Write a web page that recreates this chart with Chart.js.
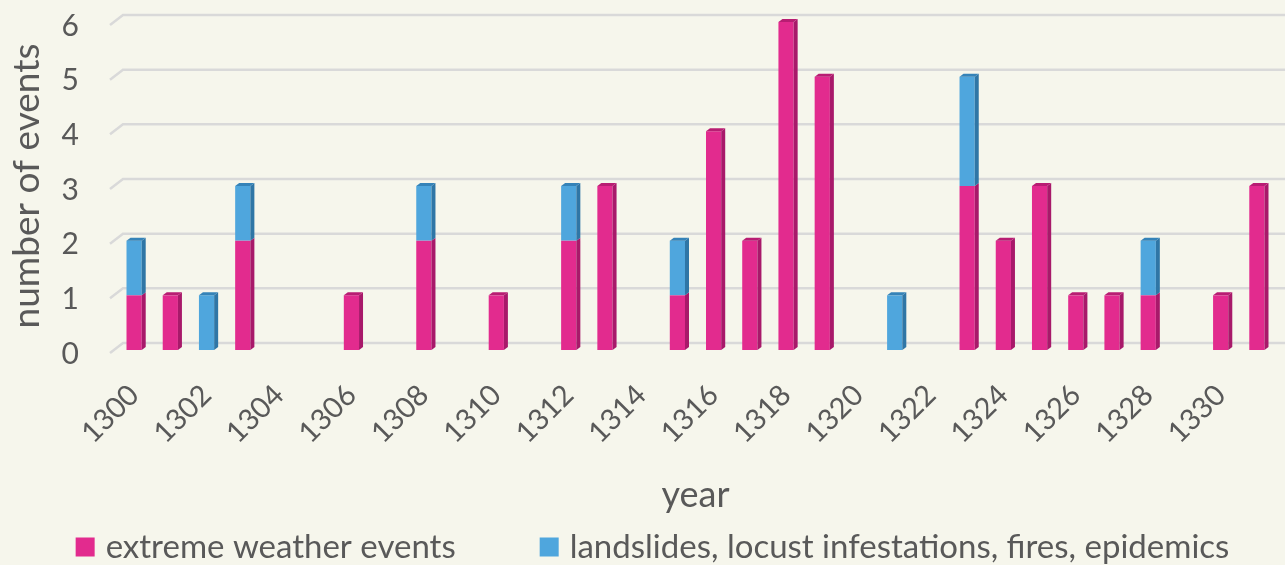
<!DOCTYPE html>
<html>
<head>
<meta charset="utf-8">
<script src="https://cdn.jsdelivr.net/npm/chart.js@4.4.1/dist/chart.umd.min.js"></script>
<style>
  html, body { margin: 0; padding: 0; background: #f6f6ec; }
  #wrap { width: 1285px; height: 565px; }
</style>
</head>
<body>
<div id="wrap"><canvas id="grafico"></canvas></div>
<script>
const years = [
  "1300", "1301", "1302", "1303", "1304", "1305", "1306", "1307",
  "1308", "1309", "1310", "1311", "1312", "1313", "1314", "1315",
  "1316", "1317", "1318", "1319", "1320", "1321", "1322", "1323",
  "1324", "1325", "1326", "1327", "1328", "1329", "1330", "1331",
];
const weather = [1, 1, 0, 2, 0, 0, 1, 0, 2, 0, 1, 0, 2, 3, 0, 1, 4, 2, 6, 5, 0, 0, 0, 3, 2, 3, 1, 1, 1, 0, 1, 3];
const otros = [1, 0, 1, 1, 0, 0, 0, 0, 1, 0, 0, 0, 1, 0, 0, 1, 0, 0, 0, 0, 0, 1, 0, 2, 0, 0, 0, 0, 1, 0, 0, 0];
const yTicks = [0, 1, 2, 3, 4, 5, 6];

const texto = "#595959";
const fuente = "Lato";
const colores = ["#e22b8e", "#4fa6dd"];

// lineas de fondo con la "pared" inclinada del grafico 3D
const rejilla = {
  id: "rejilla",
  beforeDatasetsDraw(chart) {
    const ctx = chart.ctx;
    const y = chart.scales.y;
    const left = chart.chartArea.left;
    ctx.save();
    ctx.strokeStyle = "#d9d9d9";
    ctx.lineWidth = 2.5;
    for (const v of yTicks) {
      const py = y.getPixelForValue(v);
      ctx.beginPath();
      ctx.moveTo(left - 6, py + 3);
      ctx.lineTo(left + 7, py - 7);
      ctx.lineTo(chart.width, py - 7);
      ctx.stroke();
    }
    ctx.restore();
  },
};

// caras laterales para el efecto 3D
const barras3d = {
  id: "barras3d",
  afterDatasetsDraw(chart) {
    const ctx = chart.ctx;
    const dx = 4, dy = 3;
    const oscuro = ["#a8196a", "#2f76a6"];
    const tapa = ["#b81d73", "#3583b8"];
    const metas = chart.data.datasets.map((d, i) => chart.getDatasetMeta(i));
    for (let j = 0; j < years.length; j++) {
      let topIdx = -1;
      metas.forEach((m, i) => {
        if (chart.data.datasets[i].data[j] > 0) topIdx = i;
      });
      metas.forEach((m, i) => {
        if (chart.data.datasets[i].data[j] <= 0) return;
        const bar = m.data[j];
        const right = bar.x + bar.width / 2;
        const left = bar.x - bar.width / 2;
        ctx.save();
        ctx.fillStyle = oscuro[i];
        ctx.beginPath();
        ctx.moveTo(right, bar.base);
        ctx.lineTo(right + dx, bar.base - dy);
        ctx.lineTo(right + dx, bar.y - dy);
        ctx.lineTo(right, bar.y);
        ctx.closePath();
        ctx.fill();
        if (i === topIdx) {
          ctx.fillStyle = tapa[i];
          ctx.beginPath();
          ctx.moveTo(left, bar.y);
          ctx.lineTo(left + dx, bar.y - dy);
          ctx.lineTo(right + dx, bar.y - dy);
          ctx.lineTo(right, bar.y);
          ctx.closePath();
          ctx.fill();
        }
        ctx.restore();
      });
    }
  },
};

// leyenda abajo, con mas espacio entre elementos
const leyenda = {
  id: "leyenda",
  afterDraw(chart) {
    const ctx = chart.ctx;
    const caja = 19, sep = 11, hueco = 84;
    ctx.save();
    ctx.font = "33px " + fuente;
    ctx.textBaseline = "middle";
    const anchos = chart.data.datasets.map((d) => ctx.measureText(d.label).width);
    let total = 0;
    anchos.forEach((w, i) => {
      total += caja + sep + w + (i > 0 ? hueco : 0);
    });
    let x = (chart.width - total) / 2 + 10;
    const cy = 547;
    chart.data.datasets.forEach((d, i) => {
      ctx.fillStyle = d.backgroundColor;
      ctx.fillRect(x, cy - caja / 2, caja, caja);
      ctx.fillStyle = texto;
      ctx.fillText(d.label, x + caja + sep, cy);
      x += caja + sep + anchos[i] + hueco;
    });
    ctx.restore();
  },
};

const grafico = document.getElementById("grafico").getContext("2d");
const myChart = new Chart(grafico, {
  type: "bar",
  data: {
    labels: years,
    datasets: [
      {
        label: "extreme weather events",
        data: weather,
        backgroundColor: colores[0],
        barPercentage: 0.42,
        categoryPercentage: 1,
      },
      {
        label: "landslides, locust infestations, fires, epidemics",
        data: otros,
        backgroundColor: colores[1],
        barPercentage: 0.42,
        categoryPercentage: 1,
      },
    ],
  },
  options: {
    responsive: true,
    maintainAspectRatio: false,
    animation: false,
    layout: { padding: { top: 22, right: 10, left: 5, bottom: 48 } },
    scales: {
      x: {
        stacked: true,
        afterFit: (axis) => {
          axis.paddingLeft = 0;
          axis.paddingRight = 0;
          axis.height = 167;
        },
        grid: { display: false },
        border: { display: false },
        ticks: {
          color: texto,
          font: { family: fuente, size: 29 },
          autoSkip: false,
          maxRotation: 45,
          minRotation: 45,
          padding: 20,
          callback: function (value, index) {
            return index % 2 === 0 ? years[index] : "";
          },
        },
        title: {
          display: true,
          text: "year",
          color: texto,
          font: { family: fuente, size: 36 },
          padding: { top: 14, bottom: 0 },
        },
      },
      y: {
        stacked: true,
        min: 0,
        max: 6,
        afterBuildTicks: (axis) => {
          axis.ticks = yTicks.map((v) => ({ value: v }));
        },
        afterFit: (axis) => {
          axis.paddingTop = 0;
          axis.paddingBottom = 0;
          axis.width = 111;
        },
        grid: { display: false },
        border: { display: false },
        ticks: {
          color: texto,
          font: { family: fuente, size: 30 },
          padding: 29,
          labelOffset: 4,
        },
        title: {
          display: true,
          text: "number of events",
          color: texto,
          font: { family: fuente, size: 37 },
          padding: { top: 0, bottom: 4 },
        },
      },
    },
    plugins: {
      tooltip: { enabled: false },
      legend: { display: false },
    },
  },
  plugins: [rejilla, barras3d, leyenda],
});
</script>
</body>
</html>
